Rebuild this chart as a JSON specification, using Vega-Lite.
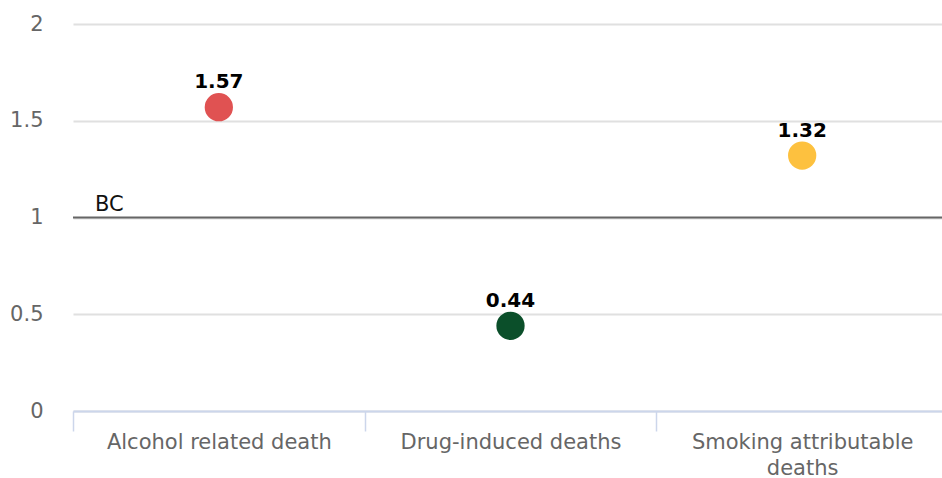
{
  "$schema": "https://vega.github.io/schema/vega-lite/v6.json",
  "width": 869,
  "height": 387,
  "autosize": {"type": "none"},
  "padding": {"left": 73, "top": 24, "right": 0, "bottom": 67},
  "background": "#ffffff",
  "config": {"view": {"stroke": null}, "font": "DejaVu Sans"},
  "datasets": {
    "points": [
      {"category": "Alcohol related death", "value": 1.57, "label": "1.57", "color": "#e05252"},
      {"category": "Drug-induced deaths", "value": 0.44, "label": "0.44", "color": "#0b4f2a"},
      {"category": "Smoking attributable deaths", "value": 1.32, "label": "1.32", "color": "#fdc13f"}
    ],
    "ref": [{"category": "Alcohol related death", "value": 1, "name": "BC"}]
  },
  "layer": [
    {
      "data": {"name": "ref"},
      "mark": {"type": "rule", "color": "#666666", "strokeWidth": 2},
      "encoding": {
        "y": {"field": "value", "type": "quantitative"}
      }
    },
    {
      "data": {"name": "ref"},
      "mark": {"type": "text", "align": "left", "baseline": "alphabetic", "dx": 22, "dy": -7, "fontSize": 21, "color": "#111111"},
      "encoding": {
        "x": {"field": "category", "type": "nominal", "bandPosition": 0},
        "y": {"field": "value", "type": "quantitative"},
        "text": {"field": "name"}
      }
    },
    {
      "data": {"name": "points"},
      "mark": {"type": "point", "filled": true, "opacity": 1, "size": 800, "shape": "circle"},
      "encoding": {
        "x": {
          "field": "category", "type": "nominal", "sort": null,
          "scale": {"paddingInner": 0, "paddingOuter": 0, "range": [0, 875]},
          "axis": {
            "title": null, "labelAngle": 0, "labelAlign": "center", "labelFontSize": 21, "labelColor": "#666666",
            "domainColor": "#ccd6eb", "domainWidth": 2, "tickColor": "#ccd6eb", "tickWidth": 1.5,
            "tickSize": 20, "tickBand": "extent", "labelPadding": 0, "labelBaseline": "top", "labelLimit": 0,
            "labelExpr": "datum.label == 'Smoking attributable deaths' ? ['Smoking attributable', 'deaths'] : datum.label",
            "labelLineHeight": 26
          }
        },
        "y": {
          "field": "value", "type": "quantitative",
          "scale": {"domain": [0, 2]},
          "axis": {
            "title": null, "values": [0, 0.5, 1, 1.5, 2], "domain": false, "ticks": false, "format": "~g",
            "labelFontSize": 21, "labelColor": "#666666", "labelPadding": 30,
            "gridColor": "#e0e0e0", "gridWidth": 2
          }
        },
        "color": {"field": "color", "type": "nominal", "scale": null}
      }
    },
    {
      "data": {"name": "points"},
      "mark": {"type": "text", "fontSize": 20, "fontWeight": "bold", "color": "#000000", "baseline": "alphabetic", "dy": -19},
      "encoding": {
        "x": {"field": "category", "type": "nominal", "sort": null},
        "y": {"field": "value", "type": "quantitative"},
        "text": {"field": "label"}
      }
    }
  ]
}
